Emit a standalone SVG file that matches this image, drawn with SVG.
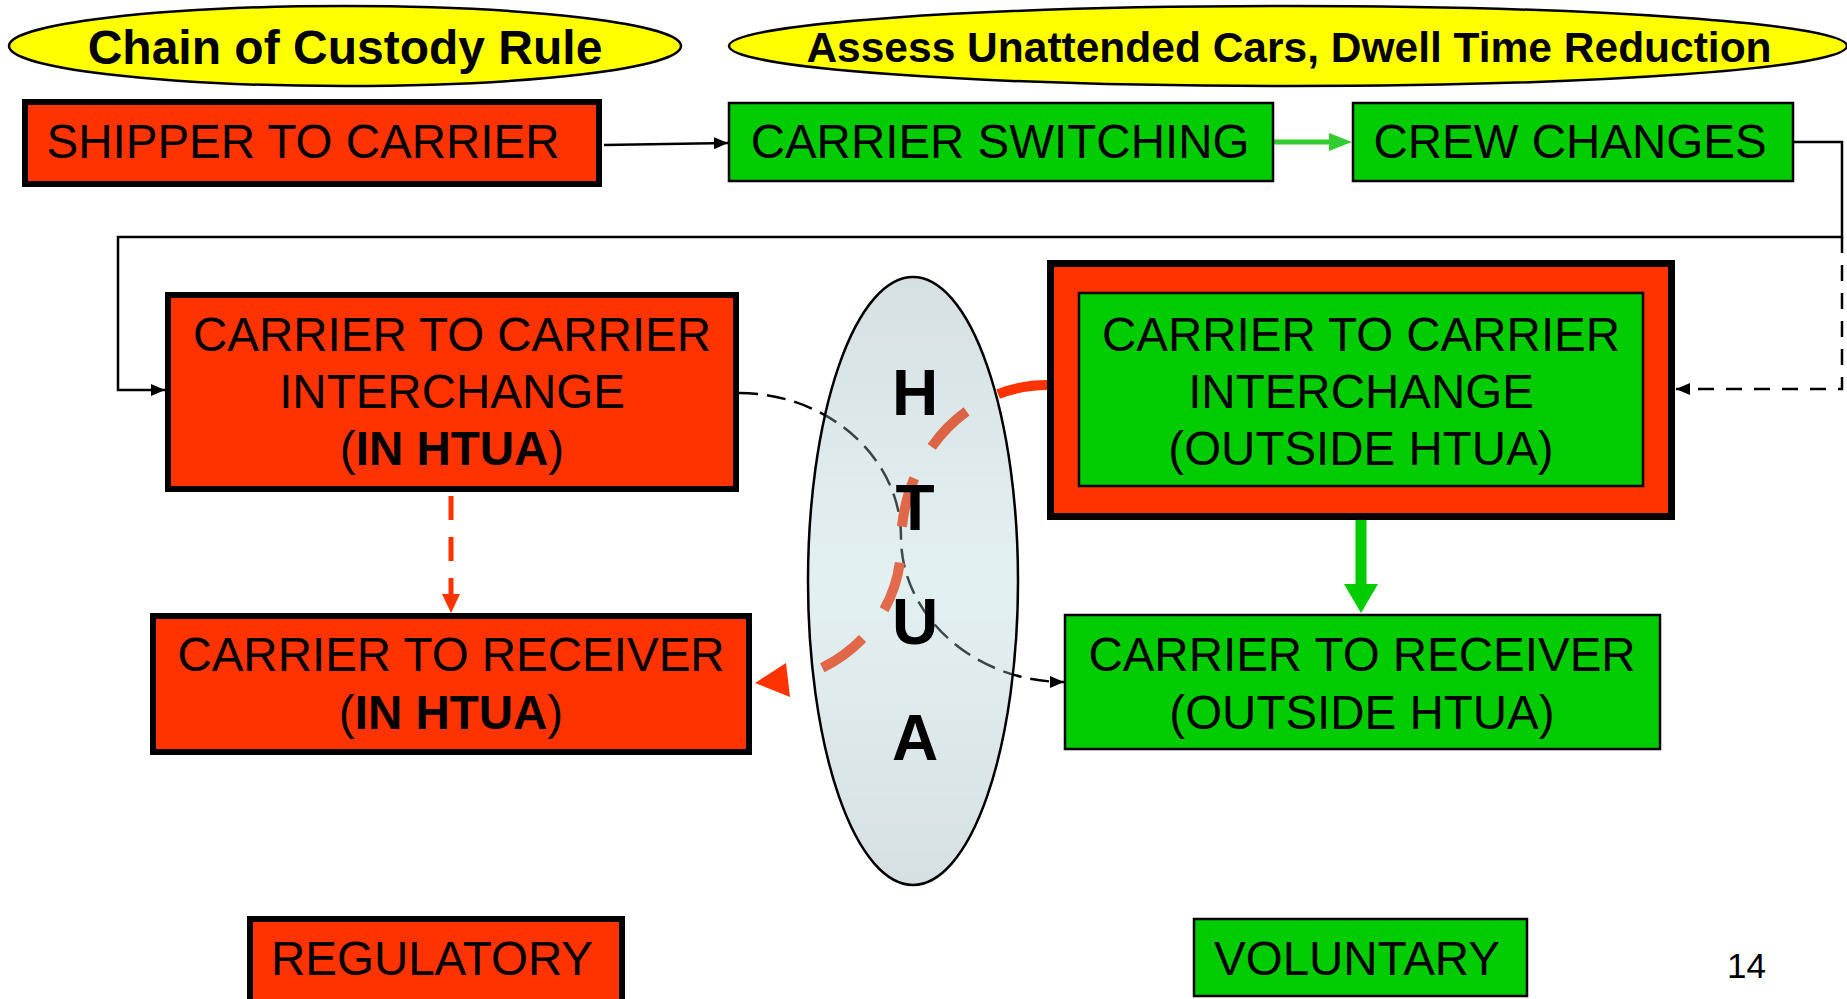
<svg xmlns="http://www.w3.org/2000/svg" width="1847" height="999" viewBox="0 0 1847 999">
<style>
.t{font-family:"Liberation Sans",Arial,sans-serif;fill:#000}
.bx{font-size:47.5px;text-anchor:middle}
.red{fill:#FF3300;stroke:#000}
.grn{fill:#00CC00;stroke:#000;stroke-width:2.5}
.thick{stroke-width:6}
.con{fill:none;stroke:#000;stroke-width:2.5}
</style>
<defs>
<marker id="ab" markerUnits="userSpaceOnUse" viewBox="0 0 14 12" markerWidth="14" markerHeight="12" refX="14" refY="6" orient="auto"><path d="M0,0 L14,6 L0,12 z" fill="#000"/></marker>
<linearGradient id="eg" x1="0" y1="0" x2="0" y2="1">
<stop offset="0" stop-color="rgb(138,166,172)"/>
<stop offset="0.5" stop-color="rgb(175,212,218)"/>
<stop offset="1" stop-color="rgb(138,166,172)"/>
</linearGradient>
</defs>
<rect width="1847" height="999" fill="#fff"/>
<g id="connectors">
<line class="con" x1="604" y1="145" x2="728" y2="143" marker-end="url(#ab)"/>
<line x1="1274" y1="142" x2="1331" y2="142" stroke="#33CC33" stroke-width="5"/>
<polygon points="1329,133 1352,142 1329,151" fill="#33CC33"/>
<polyline class="con" points="1794,142 1842,142 1842,237 118,237 118,390 165,390" marker-end="url(#ab)"/>
<polyline class="con" points="1842,237 1842,389 1676,389" stroke-dasharray="16 12" marker-end="url(#ab)"/>
<line x1="451" y1="496" x2="451" y2="596" stroke="#FF3300" stroke-width="5" stroke-dasharray="24 17"/>
<polygon points="442,594 460,594 451,613" fill="#FF3300"/>
<line x1="1361" y1="487" x2="1361" y2="586" stroke="#00CC00" stroke-width="11"/>
<polygon points="1344,584 1378,584 1361,613" fill="#00CC00"/>
<path class="con" d="M739,393 C828,393 901,458 901,537 C901,617 976,682 1064,682" stroke-dasharray="19 9" marker-end="url(#ab)"/>
<path d="M1047,385 C966,385 901,457 901,545 C901,604.3 861.5,655.1 806.1,674.5" fill="none" stroke="#FF3300" stroke-width="10" stroke-dasharray="50 36"/>
<polygon points="755,683 786,663 790,697" fill="#FF3300"/>
</g>
<g id="title-chain">
<ellipse cx="345" cy="46" rx="336" ry="40" fill="#FFFF00" stroke="#000" stroke-width="2.5"/>
<text class="t" x="345" y="64" font-size="48" font-weight="bold" text-anchor="middle">Chain of Custody Rule</text>
</g>
<g id="title-assess">
<ellipse cx="1288" cy="46" rx="559" ry="40" fill="#FFFF00" stroke="#000" stroke-width="2.5"/>
<text class="t" x="1289" y="62" font-size="42.5" font-weight="bold" text-anchor="middle">Assess Unattended Cars, Dwell Time Reduction</text>
</g>
<g id="shipper">
<rect class="red thick" x="25" y="102" width="574" height="82"/>
<text class="t bx" x="303" y="158">SHIPPER TO CARRIER</text>
</g>
<g id="switching">
<rect class="grn" x="729" y="103" width="544" height="78"/>
<text class="t bx" x="1000" y="158">CARRIER SWITCHING</text>
</g>
<g id="crew">
<rect class="grn" x="1353" y="103" width="440" height="78"/>
<text class="t bx" x="1570" y="158">CREW CHANGES</text>
</g>
<g id="interchange-in">
<rect class="red thick" x="168" y="295" width="568" height="194"/>
<text class="t bx" x="452" y="351">CARRIER TO CARRIER</text>
<text class="t bx" x="452" y="408">INTERCHANGE</text>
<text class="t bx" x="452" y="465">(<tspan font-weight="bold">IN HTUA</tspan>)</text>
</g>
<g id="receiver-in">
<rect class="red thick" x="153" y="616" width="596" height="136"/>
<text class="t bx" x="451" y="671">CARRIER TO RECEIVER</text>
<text class="t bx" x="451" y="729">(<tspan font-weight="bold">IN HTUA</tspan>)</text>
</g>
<g id="htua">
<ellipse cx="913" cy="581" rx="105" ry="304" fill="url(#eg)" fill-opacity="0.35" stroke="#000" stroke-width="2.5"/>
<g class="t" font-size="64" font-weight="bold" text-anchor="middle">
<text x="915" y="415">H</text>
<text x="915" y="530">T</text>
<text x="915" y="644">U</text>
<text x="915" y="760">A</text>
</g>
</g>
<g id="interchange-out">
<rect class="red" x="1050.5" y="263.5" width="621" height="253" stroke-width="7"/>
<rect class="grn" x="1079" y="293" width="564" height="193"/>
<text class="t bx" x="1361" y="351">CARRIER TO CARRIER</text>
<text class="t bx" x="1361" y="408">INTERCHANGE</text>
<text class="t bx" x="1361" y="465">(OUTSIDE HTUA)</text>
</g>
<g id="receiver-out">
<rect class="grn" x="1065" y="615" width="595" height="134"/>
<text class="t bx" x="1362" y="671">CARRIER TO RECEIVER</text>
<text class="t bx" x="1362" y="729">(OUTSIDE HTUA)</text>
</g>
<g id="regulatory">
<rect class="red thick" x="250" y="919" width="372" height="90"/>
<text class="t bx" x="432" y="975">REGULATORY</text>
</g>
<g id="voluntary">
<rect class="grn" x="1194" y="919" width="333" height="77"/>
<text class="t bx" x="1357" y="975">VOLUNTARY</text>
</g>
<text class="t" x="1727" y="978" font-size="35">14</text>
</svg>
